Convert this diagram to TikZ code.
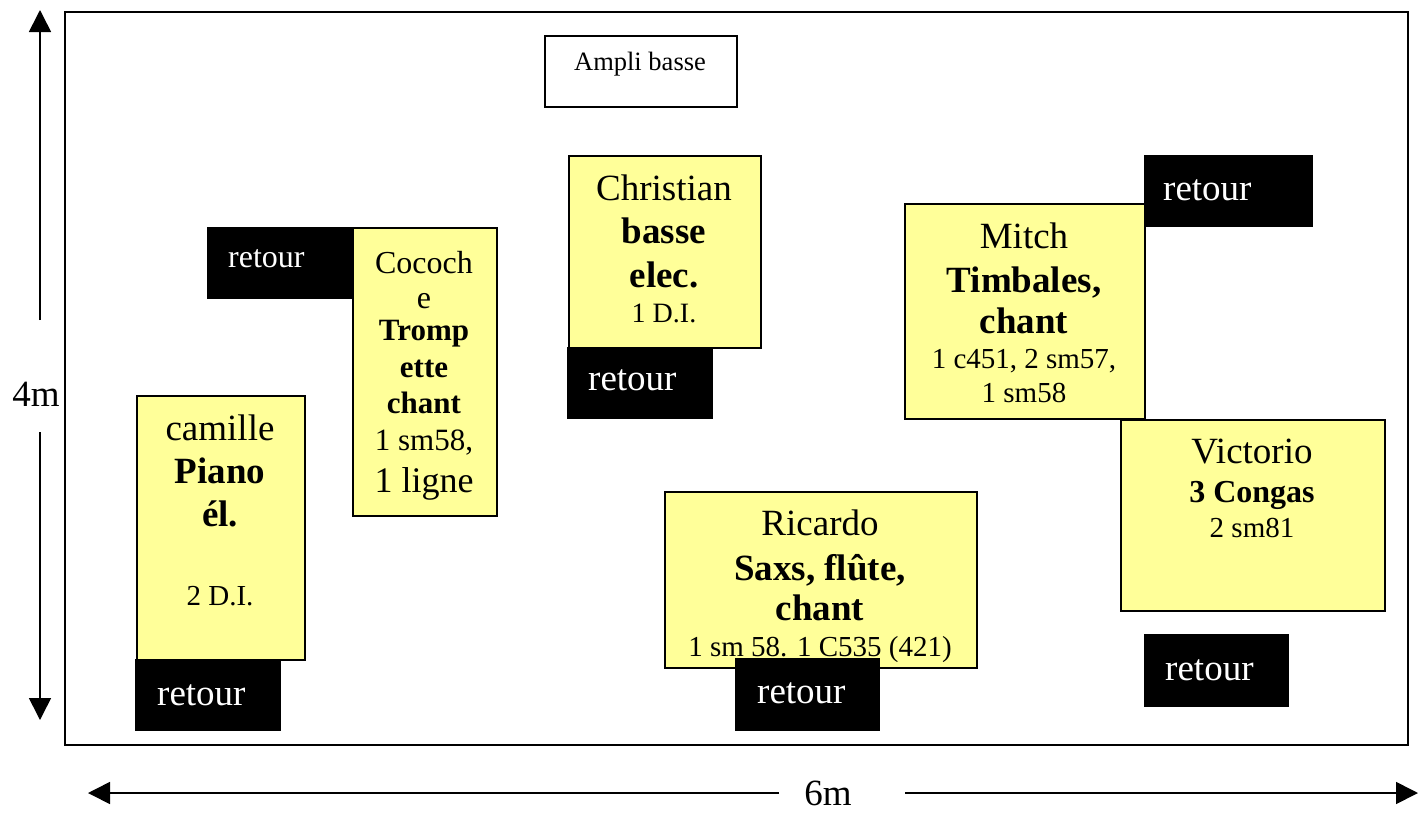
\documentclass[tikz,border=0pt]{standalone}
\usepackage{fontspec}
\setmainfont{Liberation Serif}
\usetikzlibrary{arrows.meta}
\definecolor{yel}{HTML}{FFFF99}
\newcommand{\bigtxt}{\fontsize{37}{42}\selectfont}
\newcommand{\smltxt}{\fontsize{29}{34}\selectfont}
\tikzset{
  yb/.style={draw, line width=1.6pt, fill=yel, inner sep=0pt, anchor=north west},
  wb/.style={draw, line width=1.6pt, fill=white, inner sep=0pt, anchor=north west},
  ret/.style={fill=black, inner sep=0pt, anchor=north west},
  rtxt/.style={text=white, inner sep=0pt, anchor=base west, font=\bigtxt},
  tx/.style={inner sep=0pt, anchor=base},
  dim/.style={line width=1.6pt, -{Triangle[length=22pt,width=22pt]}},
}
\begin{document}
\begin{tikzpicture}[x=1pt,y=-1pt]
\useasboundingbox (0,0) rectangle (1424,814);
% frame
\node[draw, line width=1.8pt, inner sep=0pt, anchor=north west, minimum width=1343pt, minimum height=733pt] (frame) at (64,11) {};

% dimension arrows
\node[tx, font=\bigtxt] (h4) at (36,406) {4m};
\coordinate (v1) at (40,320);
\coordinate (v1e) at (40,10);
\coordinate (v2) at (40,432);
\coordinate (v2e) at (40,720);
\draw[dim] (v1) -- (v1e);
\draw[dim] (v2) -- (v2e);
\node[tx, font=\bigtxt] (w6) at (828,805) {6m};
\coordinate (h1) at (779,793);
\coordinate (h1e) at (88,793);
\coordinate (h2) at (905,793);
\coordinate (h2e) at (1418,793);
\draw[dim] (h1) -- (h1e);
\draw[dim] (h2) -- (h2e);

% Ampli basse
\node[wb, minimum width=192pt, minimum height=71pt] (ampli) at (544,35) {};
\node[tx, font=\fontsize{26.5}{30}\selectfont] (amplit) at (640,70) {Ampli basse};

% Christian
\node[yb, minimum width=192pt, minimum height=192pt] (chr) at (568,155) {};
\node[tx, font=\bigtxt] (chr1) at (664,200) {Christian};
\node[tx, font=\bigtxt\bfseries] (chr2) at (664,243) {basse};
\node[tx, font=\bigtxt\bfseries] (chr3) at (664,287) {elec.};
\node[tx, font=\fontsize{28}{32}\selectfont] (chr4) at (664,322) {1 D.I.};

% Cococh
\node[yb, minimum width=144pt, minimum height=288pt] (coc) at (352,227) {};
\node[tx, font=\fontsize{32}{36}\selectfont] (coc1) at (424,273) {Cococh};
\node[tx, font=\fontsize{32}{36}\selectfont] (coc2) at (424,308) {e};
\node[tx, font=\fontsize{31}{36}\selectfont\bfseries] (coc3) at (424,340) {Tromp};
\node[tx, font=\fontsize{31}{36}\selectfont\bfseries] (coc4) at (424,377) {ette};
\node[tx, font=\fontsize{31}{36}\selectfont\bfseries] (coc5) at (424,413) {chant};
\node[tx, font=\fontsize{31}{36}\selectfont] (coc6) at (424,450) {1 sm58,};
\node[tx, font=\fontsize{36}{40}\selectfont] (coc7) at (424,492) {1 ligne};

% camille
\node[yb, minimum width=168pt, minimum height=264pt] (cam) at (136,395) {};
\node[tx, font=\bigtxt] (cam1) at (220,440) {camille};
\node[tx, font=\bigtxt\bfseries] (cam2) at (220,483) {Piano};
\node[tx, font=\bigtxt\bfseries] (cam3) at (220,526) {él.};
\node[tx, font=\smltxt] (cam4) at (220,605) {2 D.I.};

% Mitch
\node[yb, minimum width=240pt, minimum height=215pt] (mit) at (904,203) {};
\node[tx, font=\bigtxt] (mit1) at (1024,248) {Mitch};
\node[tx, font=\bigtxt\bfseries] (mit2) at (1024,292) {Timbales,};
\node[tx, font=\bigtxt\bfseries] (mit3) at (1024,333) {chant};
\node[tx, font=\smltxt] (mit4) at (1024,368) {1 c451, 2 sm57,};
\node[tx, font=\smltxt] (mit5) at (1024,402) {1 sm58};

% Victorio
\node[yb, minimum width=264pt, minimum height=191pt] (vic) at (1120,419) {};
\node[tx, font=\bigtxt] (vic1) at (1252,463) {Victorio};
\node[tx, font=\fontsize{32}{36}\selectfont\bfseries] (vic2) at (1252,502) {3 Congas};
\node[tx, font=\smltxt] (vic3) at (1252,537) {2 sm81};

% Ricardo
\node[yb, minimum width=312pt, minimum height=176pt] (ric) at (664,491) {};
\node[tx, font=\bigtxt] (ric1) at (820,535) {Ricardo};
\node[tx, font=\bigtxt\bfseries] (ric2) at (820,580) {Saxs, flûte,};
\node[tx, font=\bigtxt\bfseries] (ric3) at (820,620) {chant};
\begin{scope}
\clip (665,492) rectangle (975,661);
\node[tx, font=\smltxt] (ric4) at (820,656) {1 sm 58. 1 C535 (421)};
\end{scope}

% retours
\node[ret, minimum width=145pt, minimum height=72pt] (rcoc) at (207,227) {};
\node[rtxt, font=\fontsize{32}{36}\selectfont] (rcoct) at (228,267) {retour};
\node[ret, minimum width=146pt, minimum height=72pt] (rchr) at (567,347) {};
\node[rtxt] (rchrt) at (588,390) {retour};
\node[ret, minimum width=146pt, minimum height=72pt] (rcam) at (135,659) {};
\node[rtxt] (rcamt) at (157,705) {retour};
\node[ret, minimum width=169pt, minimum height=72pt] (rmit) at (1144,155) {};
\node[rtxt] (rmitt) at (1163,200) {retour};
\node[ret, minimum width=145pt, minimum height=73pt] (rvic) at (1144,634) {};
\node[rtxt] (rvict) at (1165,680) {retour};
\node[ret, minimum width=145pt, minimum height=73pt] (rric) at (735,658) {};
\node[rtxt] (rrict) at (757,703) {retour};
\end{tikzpicture}
\end{document}
